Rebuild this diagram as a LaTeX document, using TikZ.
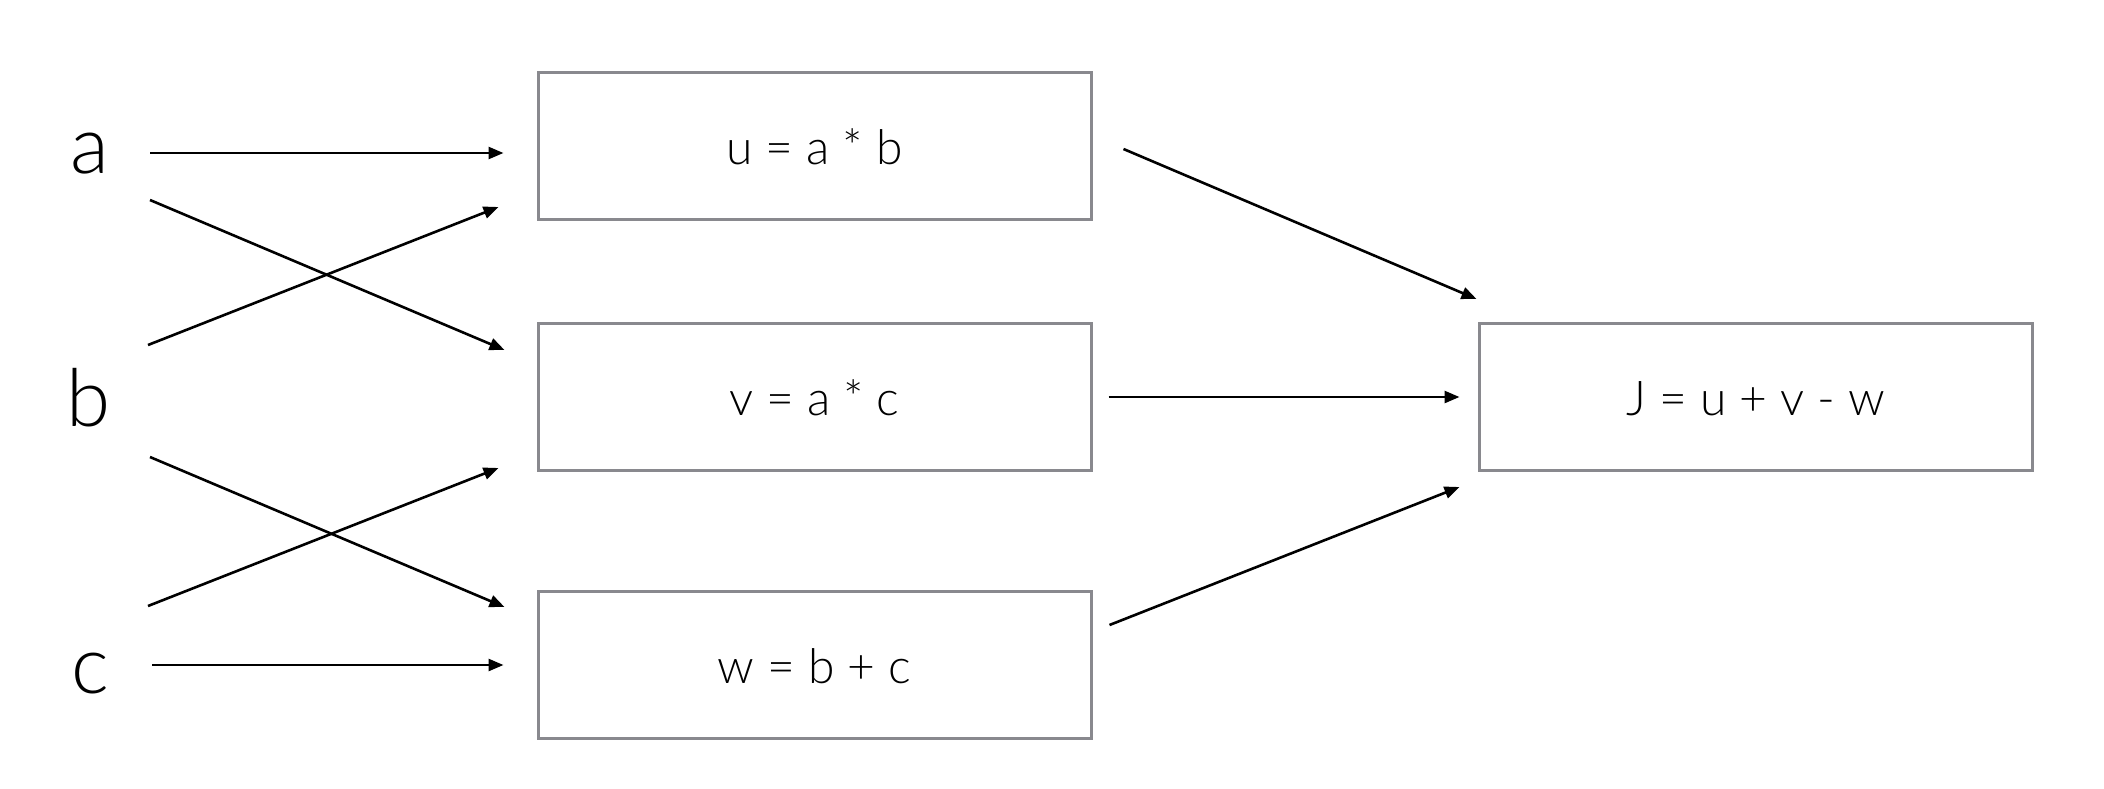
\documentclass[tikz,border=0pt]{standalone}
\usepackage{fontspec}
\IfFontExistsTF{Lato Light}{\setmainfont{Lato Light}}{\setmainfont{TeX Gyre Heros}}
\usetikzlibrary{arrows.meta,calc}
\definecolor{boxgray}{RGB}{137,137,142}
\begin{document}
\begin{tikzpicture}[x=1pt,y=-1pt,
  box/.style={draw=boxgray,line width=3pt,minimum width=553pt,minimum height=147pt,
    inner sep=0pt,font={\fontsize{48}{54}\selectfont\spaceskip=13pt\relax},text height=37pt,text depth=0pt},
  lbl/.style={inner sep=0pt,font=\fontsize{80}{86}\selectfont,text height=41pt,text depth=0pt},
  arr/.style={line width=2.6pt,-{Triangle[length=15pt,width=12pt]}}]
\useasboundingbox (0,0) rectangle (2104,788);
\node[box] (u) at (814.5,145.5) {u = a * b};
\node[box] (v) at (814.5,397) {v = a * c};
\node[box] (w) at (814.5,665) {w = b + c};
\node[box] (J) at (1755.5,397) {J = u + v - w};
\node[lbl] (a) at (90,153) {a};
\node[lbl] (b) at (89,406) {b};
\node[lbl] (c) at (90,673) {c};
\draw[arr] ($(a)+(60,0)$) -- ($(u.west)+(-33,7.5)$);
\draw[arr] ($(a)+(60,47)$) -- ($(v.west)+(-32,-47)$);
\draw[arr] ($(b)+(59,-61)$) -- ($(u.west)+(-38,61.5)$);
\draw[arr] ($(b)+(61,51)$) -- ($(w.west)+(-32,-58)$);
\draw[arr] ($(c)+(58,-67)$) -- ($(v.west)+(-38,71)$);
\draw[arr] ($(c)+(62,-8)$) -- ($(w.west)+(-33,0)$);
\draw[arr] ($(u.east)+(31,3.5)$) -- ($(J.west)+(-1,-98)$);
\draw[arr] ($(v.east)+(16,0)$) -- ($(J.west)+(-18,0)$);
\draw[arr] ($(w.east)+(17,-40)$) -- ($(J.west)+(-18,90)$);
\end{tikzpicture}
\end{document}
